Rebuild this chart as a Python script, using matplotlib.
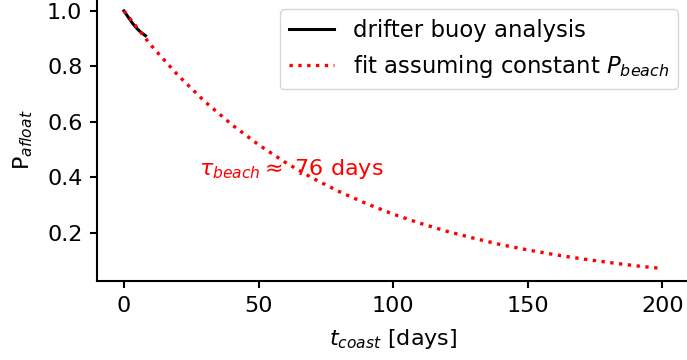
import numpy as np
import matplotlib.pyplot as plt

# drifter buoy analysis
t_drifter = [0, 1, 2, 3, 4, 5, 6, 7, 8]
p_drifter = [1.0, 0.986, 0.972, 0.958, 0.946, 0.935, 0.926, 0.918, 0.911]

# fitted curve, constant P_beach (read every 10 days)
t_fit = [0, 10, 20, 30, 40, 50, 60, 70, 80, 90, 100,
         110, 120, 130, 140, 150, 160, 170, 180, 190, 200]
p_fit = [1.0, 0.877, 0.769, 0.674, 0.591, 0.518, 0.454, 0.398, 0.349, 0.306, 0.268,
         0.235, 0.206, 0.181, 0.158, 0.139, 0.122, 0.107, 0.094, 0.082, 0.072]

tau_label = r'$\tau_{beach} \approx$ 76 days'

fs = 16
fig = plt.figure(figsize=(6.87, 3.6), dpi=100)
ax = fig.add_axes([0.1412, 0.2183, 0.8623, 0.787])

ax.plot(t_drifter, p_drifter, color='black', lw=2.2, label='drifter buoy analysis')
ax.plot(t_fit, p_fit, color='red', ls=':', lw=2.4, label=r'fit assuming constant $P_{beach}$')

ax.text(28, 0.43, tau_label, color='red', fontsize=fs, ha='left', va='center')

ax.set_xlim(-10, 210)
ax.set_ylim(0.0256, 1.0464)
ax.set_xticks([0, 50, 100, 150, 200])
ax.set_yticks([0.2, 0.4, 0.6, 0.8, 1.0])
ax.tick_params(labelsize=fs, width=1.5, length=5, pad=5.5)
for side in ['top', 'right']:
    ax.spines[side].set_visible(False)
for side in ['left', 'bottom']:
    ax.spines[side].set_linewidth(1.5)

ax.set_xlabel(r'$t_{coast}$ [days]', fontsize=fs, labelpad=8)
ax.set_ylabel(r'P$_{afloat}$', fontsize=fs, labelpad=9)
ax.legend(loc='upper right', fontsize=16.4, handlelength=2.0)

fig.savefig('out.png', dpi=100)
